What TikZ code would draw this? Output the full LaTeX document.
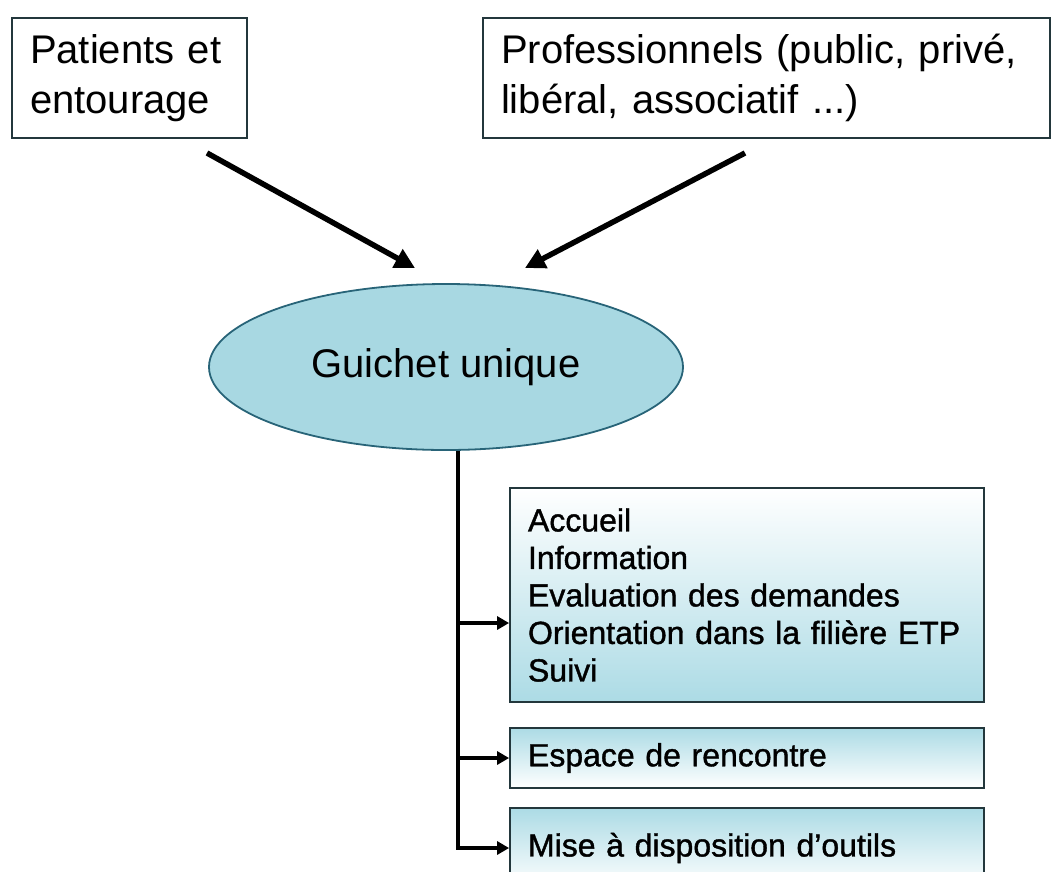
\documentclass[tikz,border=0pt]{standalone}
\usepackage{fontspec}
\setmainfont{Liberation Sans}
\newfontfamily\boxfont[FakeBold=1.2,Ligatures=TeX]{Liberation Sans}
\usetikzlibrary{arrows.meta,shapes.geometric}
\definecolor{eltfill}{RGB}{168,216,226}
\definecolor{eltline}{RGB}{40,100,120}
\definecolor{boxline}{RGB}{35,55,60}
\definecolor{boxblue}{RGB}{172,219,229}
\begin{document}
\begin{tikzpicture}[x=1pt,y=-1pt,
  topbox/.style={draw=boxline, line width=1.8pt, fill=white, align=left,
    inner xsep=18pt, inner ysep=0pt, font=\fontsize{40}{50}\selectfont},
  subbox/.style={draw=boxline, line width=1.8pt, align=left,
    inner xsep=18pt, inner ysep=0pt, minimum width=474pt, text width=438pt,
    font=\boxfont\fontsize{32}{37.5}\selectfont},
  bigarrow/.style={line width=5.5pt, -{Triangle[length=20pt,width=20pt]}},
  branch/.style={line width=4pt, -{Triangle[length=12pt,width=13pt]}}
]
\useasboundingbox (0,0) rectangle (1054,871);
\clip (0,0) rectangle (1054,871);

\node[topbox, minimum width=235pt, minimum height=120pt, text width=199pt] (pat) at (129.5,78) {Patients et\\entourage};
\node[topbox, minimum width=567pt, minimum height=120pt, text width=531pt] (pro) at (766.5,78) {Professionnels (public, privé,\\libéral, associatif ...)};

\node[ellipse, draw=eltline, line width=1.8pt, fill=eltfill, minimum width=474pt, minimum height=166pt, inner sep=0pt,
  font=\fontsize{40}{48}\selectfont] (g) at (446,367) {Guichet unique};

\node[subbox, minimum height=214pt, top color=white, bottom color=boxblue] (b3) at (747,595)
  {Accueil\\Information\\Evaluation des demandes\\Orientation dans la filière ETP\\Suivi};
\node[subbox, minimum height=60pt, top color=boxblue, bottom color=white] (b4) at (747,758) {Espace de rencontre};
\node[subbox, minimum height=80pt, top color=boxblue, bottom color=white] (b5) at (747,848) {Mise à disposition d’outils};

\coordinate (a1s) at (207,153);
\coordinate (a1e) at (415,268);
\coordinate (a2s) at (745,153);
\coordinate (a2e) at (525,268);
\draw[bigarrow] (a1s) -- (a1e);
\draw[bigarrow] (a2s) -- (a2e);

\coordinate (tx) at (458,0);
\coordinate (t0) at (g.south -| tx);
\coordinate (j3) at (458,623);
\coordinate (j4) at (458,758);
\draw[branch] (t0) |- (b5.west);
\draw[branch] (j3) -- (j3 -| b3.west);
\draw[branch] (j4) -- (b4.west);
\end{tikzpicture}
\end{document}
